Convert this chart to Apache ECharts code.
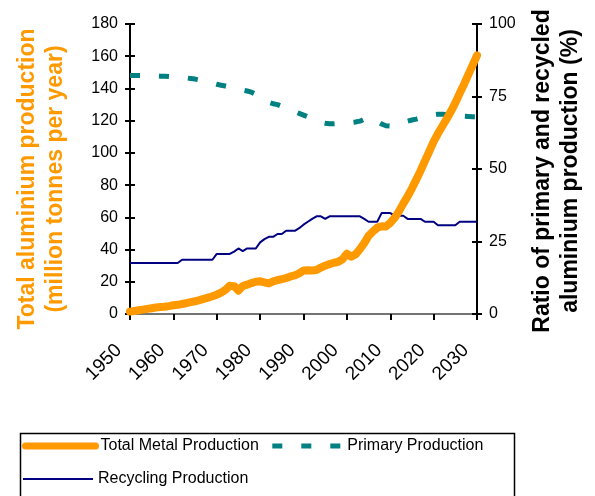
<!DOCTYPE html>
<html>
<head>
<meta charset="utf-8">
<script src="https://cdn.jsdelivr.net/npm/echarts@6/dist/echarts.min.js"></script>
<style>
  html, body { margin: 0; padding: 0; background: #fff; }
  #chart { width: 595px; height: 496px; }
</style>
</head>
<body>
<div id="chart"></div>
<script>
// years 1950 - 2030
var years = [];
for (var y = 1950; y <= 2030; y++) years.push(y);

// total metal production (million tonnes per year)
var totalProduction = [
  1.5, 1.9, 2.3, 2.7, 3.2, 3.6, 4.0, 4.3, 4.5, 4.9,
  5.4, 5.7, 6.2, 6.8, 7.4, 7.9, 8.6, 9.4, 10.2, 11.0,
  12.0, 13.3, 15.0, 17.5, 17.3, 14.5, 17.4, 18.2, 19.2, 20.0,
  20.3, 19.6, 19.0, 20.3, 21.0, 21.7, 22.3, 23.3, 24.0, 25.2,
  27.0, 27.1, 27.0, 27.3, 28.8, 30.0, 31.0, 31.8, 32.4, 34.0,
  37.4, 35.6, 37.0, 40.2, 44.0, 48.5, 51.2, 53.6, 54.5, 54.3,
  56.5, 59.6, 63.7, 68.5, 73.0, 78.0, 83.4, 89.0, 95.0, 101.0,
  107.0, 112.0, 116.5, 121.0, 125.8, 131.0, 137.0, 142.5, 148.6, 154.5,
  160.5
];

// primary share (%)
var primaryShare = [
  82.2, 82.2, 82.2, 82.2, 82.2, 82.1, 82.1, 82.0, 82.0, 81.9,
  81.8, 81.7, 81.5, 81.4, 81.2, 81.0, 80.7, 80.4, 80.0, 79.6,
  79.2, 78.9, 78.6, 78.3, 77.9, 77.5, 77.2, 76.9, 76.5, 75.8,
  74.8, 73.8, 73.0, 72.5, 72.2, 71.6, 71.0, 70.4, 69.8, 69.2,
  68.6, 68.0, 67.4, 66.6, 66.1, 65.8, 65.6, 65.6, 65.7, 65.8,
  65.9, 66.0, 66.2, 66.5, 67.2, 67.8, 67.3, 66.4, 65.5, 64.9,
  64.8, 65.0, 65.5, 66.0, 66.5, 66.9, 67.2, 67.6, 68.0, 68.4,
  68.7, 68.9, 68.9, 68.8, 68.6, 68.4, 68.3, 68.2, 68.1, 68.0,
  68.0
];

// recycling share (%)
var recyclingShare = [
  17.6, 17.6, 17.6, 17.6, 17.6, 17.6, 17.6, 17.6, 17.6, 17.6,
  17.6, 17.6, 18.7, 18.7, 18.7, 18.7, 18.7, 18.7, 18.7, 18.7,
  20.7, 20.7, 20.7, 20.7, 21.5, 22.6, 21.7, 22.6, 22.6, 22.6,
  24.7, 25.8, 26.6, 26.6, 27.6, 27.6, 28.7, 28.7, 28.7, 29.6,
  30.8, 31.8, 32.8, 33.7, 33.7, 32.8, 33.7, 33.7, 33.7, 33.7,
  33.7, 33.7, 33.7, 33.7, 32.8, 31.8, 31.8, 31.8, 34.8, 34.8,
  34.8, 33.9, 33.9, 33.9, 32.8, 32.8, 32.8, 32.8, 31.8, 31.8,
  31.8, 30.6, 30.6, 30.6, 30.6, 30.6, 31.8, 31.8, 31.8, 31.8,
  31.8
];

var leftTitle = "Total aluminium production\n(million tonnes per year)";
var rightTitle = "Ratio of primary and recycled\naluminium production (%)";

function pairs(vals) {
  return years.map(function (yr, i) { return [yr, vals[i]]; });
}

var chart = echarts.init(document.getElementById("chart"));
var font = "Liberation Sans, Arial, sans-serif";
var legendText = { fontSize: 16, color: "#000", fontFamily: font };

// y axis with ticks only (inside half of the crossing tick marks)
function tickOnlyAxis(pos, max, interval) {
  return {
    type: "value",
    position: pos,
    min: 0,
    max: max,
    interval: interval,
    axisLine: { show: false },
    axisTick: { show: true, inside: true, length: 5, lineStyle: { color: "#000", width: 2 } },
    axisLabel: { show: false },
    splitLine: { show: false }
  };
}

var option = {
  animation: false,
  textStyle: { fontFamily: font },
  grid: { left: 130, right: 118, top: 24, bottom: 182 },
  legend: [
    {
      left: 22,
      top: 438,
      padding: 0,
      itemWidth: 70,
      itemHeight: 18,
      itemGap: 11,
      textStyle: legendText,
      itemStyle: { opacity: 0 },
      data: [
        { name: "Total Metal Production", lineStyle: { width: 7, cap: "round" } },
        { name: "Primary Production", lineStyle: { width: 5 } }
      ]
    },
    {
      left: 22,
      top: 471,
      padding: 0,
      itemWidth: 70,
      itemHeight: 18,
      textStyle: legendText,
      itemStyle: { opacity: 0 },
      data: [{ name: "Recycling Production", lineStyle: { width: 2 } }]
    }
  ],
  graphic: [
    {
      type: "rect",
      left: 18,
      top: 431,
      shape: { width: 494, height: 80 },
      style: { fill: "none", stroke: "#000", lineWidth: 1.5 },
      z: -1
    }
  ],
  xAxis: [
    {
      type: "value",
      min: 1950,
      max: 2030,
      interval: 10,
      axisLine: { lineStyle: { color: "#000", width: 2 } },
      axisTick: { length: 6, lineStyle: { color: "#000", width: 2 } },
      axisLabel: {
        rotate: 45,
        margin: 22,
        padding: [0, 16, 0, 0],
        fontSize: 19,
        color: "#000",
        fontFamily: font,
        formatter: function (v) { return String(v); }
      },
      splitLine: { show: false }
    },
    {
      type: "value",
      position: "top",
      min: 1950,
      max: 2030,
      axisLine: { show: true, lineStyle: { color: "#999", width: 1.5 } },
      axisTick: { show: false },
      axisLabel: { show: false },
      splitLine: { show: false }
    }
  ],
  yAxis: [
    {
      type: "value",
      min: 0,
      max: 180,
      interval: 20,
      position: "left",
      name: leftTitle,
      nameLocation: "middle",
      nameRotate: 90,
      nameGap: 60,
      nameTextStyle: {
        color: "#FF9900",
        fontSize: 23,
        fontWeight: "bold",
        lineHeight: 28,
        padding: [0, 20, 0, 0],
        fontFamily: font
      },
      axisLine: { show: true, lineStyle: { color: "#000", width: 2 } },
      axisTick: { show: true, length: 5, lineStyle: { color: "#000", width: 2 } },
      axisLabel: { fontSize: 16, color: "#000", margin: 12, fontFamily: font },
      splitLine: { show: false }
    },
    {
      type: "value",
      min: 0,
      max: 100,
      interval: 25,
      position: "right",
      name: rightTitle,
      nameLocation: "middle",
      nameRotate: 90,
      nameGap: 52,
      nameTextStyle: {
        color: "#000",
        fontSize: 23,
        fontWeight: "bold",
        lineHeight: 28,
        padding: [0, 4, 0, 0],
        fontFamily: font
      },
      axisLine: { show: true, lineStyle: { color: "#000", width: 2 } },
      axisTick: { show: true, length: 5, lineStyle: { color: "#000", width: 2 } },
      axisLabel: { fontSize: 16, color: "#000", margin: 12, fontFamily: font },
      splitLine: { show: false }
    },
    tickOnlyAxis("left", 180, 20),
    tickOnlyAxis("right", 100, 25)
  ],
  series: [
    {
      name: "Total Metal Production",
      type: "line",
      yAxisIndex: 0,
      symbol: "none",
      data: pairs(totalProduction),
      lineStyle: { color: "#FF9900", width: 8, cap: "round", join: "round" },
      itemStyle: { color: "#FF9900" },
      z: 3
    },
    {
      name: "Primary Production",
      type: "line",
      yAxisIndex: 1,
      symbol: "none",
      data: pairs(primaryShare),
      lineStyle: { color: "#008080", width: 5, type: [10, 19] },
      itemStyle: { color: "#008080" },
      z: 2
    },
    {
      name: "Recycling Production",
      type: "line",
      yAxisIndex: 1,
      symbol: "none",
      data: pairs(recyclingShare),
      lineStyle: { color: "#000080", width: 2 },
      itemStyle: { color: "#000080" },
      z: 2
    }
  ]
};

chart.setOption(option);
</script>
</body>
</html>
